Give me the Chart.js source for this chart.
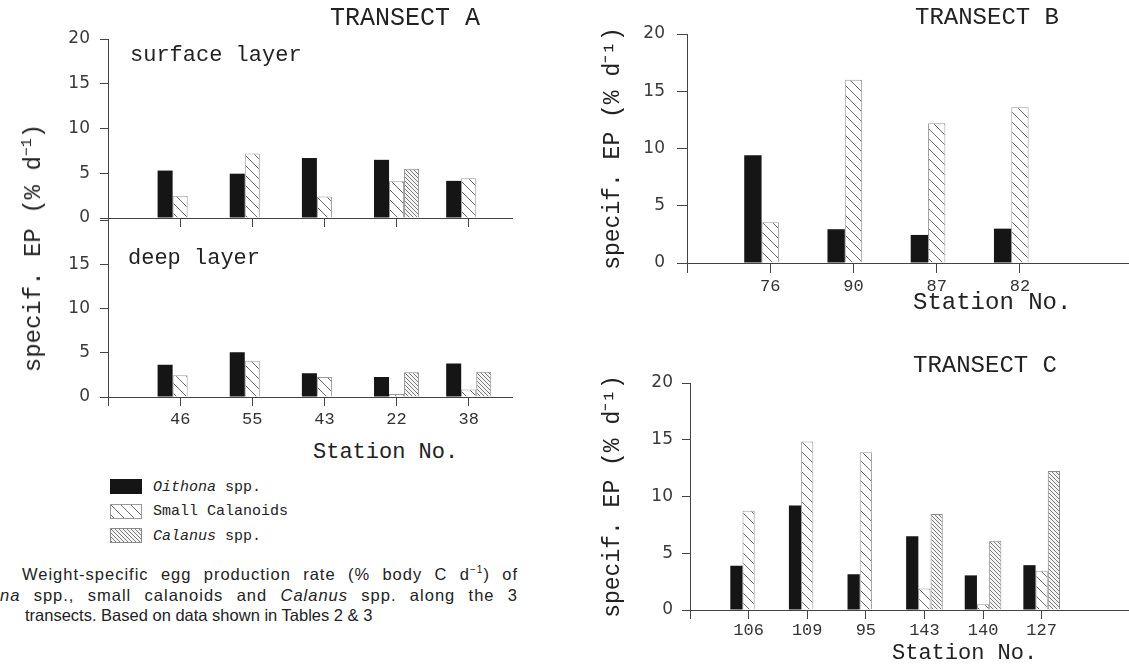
<!DOCTYPE html>
<html>
<head>
<meta charset="utf-8">
<script src="https://cdn.jsdelivr.net/npm/chart.js@4.4.1/dist/chart.umd.min.js"></script>
<style>
  html, body { margin: 0; padding: 0; background: #fff; }
  body { width: 1129px; height: 666px; position: relative; overflow: hidden; }
  canvas.plot { position: absolute; }
  .t { position: absolute; white-space: nowrap; line-height: 1; color: #222;
       font-family: "Liberation Mono", monospace; }
  .cap { position: absolute; white-space: nowrap; line-height: 1; color: #222;
         font-family: "Liberation Sans", Arial, sans-serif; font-size: 16.5px; }
  .just { text-align: justify; text-align-last: justify; white-space: normal; letter-spacing: 1px; }
  .sw { position: absolute; }
</style>
</head>
<body>
<canvas id="aSurf" class="plot" width="560" height="240" style="left:0;top:0"></canvas>
<canvas id="aDeep" class="plot" width="560" height="240" style="left:0;top:200px"></canvas>
<canvas id="bChart" class="plot" width="569" height="320" style="left:560px;top:0"></canvas>
<canvas id="cChart" class="plot" width="569" height="326" style="left:560px;top:340px"></canvas>

<div class="t" style="left:330px;top:6px;font-size:25px">TRANSECT A</div>
<div class="t" style="left:130px;top:45px;font-size:22px">surface layer</div>
<div class="t" style="left:128px;top:248px;font-size:22px">deep layer</div>
<div class="t" style="left:313px;top:442px;font-size:22px">Station No.</div>
<div class="t" style="left:33px;top:248px;font-size:24px;transform:translate(-50%,-50%) rotate(-90deg)">specif. EP (% d<sup style="font-size:15px">&minus;1</sup>)</div>

<div class="t" style="left:915px;top:6px;font-size:24px">TRANSECT B</div>
<div class="t" style="left:913px;top:291px;font-size:24px">Station No.</div>
<div class="t" style="left:913px;top:354px;font-size:24px">TRANSECT C</div>
<div class="t" style="left:892px;top:643px;font-size:22px">Station No.</div>

<canvas id="sw0" class="sw" width="32" height="15" style="left:110px;top:479px"></canvas>
<canvas id="sw1" class="sw" width="32" height="15" style="left:110px;top:504px"></canvas>
<canvas id="sw2" class="sw" width="32" height="15" style="left:110px;top:528px"></canvas>
<div class="t" style="left:153px;top:480px;font-size:15px"><i>Oithona</i> spp.</div>
<div class="t" style="left:153px;top:504px;font-size:15px">Small Calanoids</div>
<div class="t" style="left:153px;top:529px;font-size:15px"><i>Calanus</i> spp.</div>

<div class="cap just" style="left:22px;top:565px;width:496px">Weight-specific egg production rate (% body C d<sup style="font-size:10px">&minus;1</sup>) of</div>
<div class="cap just" style="left:0;top:587px;width:518px"><i>na</i> spp., small calanoids and <i>Calanus</i> spp. along the 3</div>
<div class="cap" style="left:25px;top:607px">transects. Based on data shown in Tables 2 &amp; 3</div>

<script>
// Transect A (surface and deep layer)
const stationsA = ['46', '55', '43', '22', '38'];
const oithonaSurfA = [5.3, 4.95, 6.7, 6.5, 4.15];
const smallCalSurfA = [2.5, 7.2, 2.4, 4.1, 4.45];
const calanusSurfA = [0, 0, 0, 5.5, 0];
const oithonaDeepA = [3.65, 5.05, 2.7, 2.25, 3.8];
const smallCalDeepA = [2.45, 4.1, 2.25, 0.35, 0.85];
const calanusDeepA = [0, 0, 0, 2.8, 2.85];

// Transect B
const stationsB = ['76', '90', '87', '82'];
const oithonaB = [9.4, 2.95, 2.45, 3.0];
const smallCalB = [3.55, 16.0, 12.2, 13.6];
const calanusB = [0, 0, 0, 0];

// Transect C
const stationsC = ['106', '109', '95', '143', '140', '127'];
const oithonaC = [3.9, 9.2, 3.15, 6.5, 3.05, 3.95];
const smallCalC = [8.75, 14.85, 13.9, 1.9, 0.5, 3.45];
const calanusC = [0, 0, 0, 8.45, 6.1, 12.25];

const yTicks = [0, 5, 10, 15, 20];
const seriesNames = ['Oithona spp.', 'Small Calanoids', 'Calanus spp.'];

const axisColor = '#444';
const monoFont = 'Liberation Mono';
const sansFont = 'DejaVu Sans';

// hatch fills, lines running top-left to bottom-right
function hatch(gap, line, bg) {
    const tile = document.createElement('canvas');
    tile.width = gap;
    tile.height = gap;
    const g = tile.getContext('2d');
    g.fillStyle = bg;
    g.fillRect(0, 0, gap, gap);
    g.strokeStyle = line;
    g.lineWidth = 1;
    g.beginPath();
    g.moveTo(0, 0); g.lineTo(gap, gap);
    g.moveTo(-2, gap - 2); g.lineTo(2, gap + 2);
    g.moveTo(gap - 2, -2); g.lineTo(gap + 2, 2);
    g.stroke();
    return g.createPattern(tile, 'repeat');
}

const fills = ['#151515', hatch(10, '#6a6a6a', '#ffffff'), hatch(4, '#7a7a7a', '#f4f4f4')];
const borders = ['#151515', '#9a9a9a', '#8a8a8a'];

function buildDatasets(stations, lists) {
    return lists.map((vals, k) => ({
        label: seriesNames[k],
        data: stations.map((s, i) => ({ x: i + 1, y: vals[i] })),
        backgroundColor: fills[k],
        borderColor: borders[k],
        borderWidth: k === 0 ? 0 : 1,
        categoryPercentage: 0.625,
        barPercentage: 1
    }));
}

function makeChart(id, stations, lists, cfg) {
    const ctx = document.getElementById(id).getContext('2d');
    return new Chart(ctx, {
        type: 'bar',
        data: { datasets: buildDatasets(stations, lists) },
        options: {
            responsive: false,
            animation: false,
            events: [],
            layout: { padding: cfg.padding },
            plugins: { legend: { display: false }, tooltip: { enabled: false }, title: { display: false } },
            scales: {
                x: {
                    type: 'linear',
                    offset: false,
                    min: 0,
                    max: cfg.xMax,
                    afterBuildTicks: (scale) => {
                        scale.ticks = [0].concat(stations.map((s, i) => i + 1)).map(v => ({ value: v }));
                    },
                    afterFit: (scale) => { scale.height = cfg.xHeight; },
                    ticks: {
                        display: cfg.xLabels,
                        autoSkip: false,
                        maxRotation: 0,
                        padding: cfg.xPad,
                        color: '#333',
                        font: { family: monoFont, size: 17 },
                        callback: (v) => (v === 0 ? '' : stations[v - 1])
                    },
                    grid: { offset: false, drawOnChartArea: false, tickLength: cfg.xTick, color: axisColor },
                    border: { color: axisColor }
                },
                y: {
                    min: 0,
                    max: 20,
                    afterBuildTicks: (scale) => {
                        scale.ticks = yTicks.map(v => ({ value: v }));
                    },
                    afterFit: (scale) => { scale.width = cfg.yWidth; },
                    ticks: {
                        padding: cfg.yPad,
                        color: '#3a3a3a',
                        font: { family: sansFont, size: 17 },
                        callback: (v) => (cfg.hideTop && v === 20 ? '' : v)
                    },
                    grid: { drawOnChartArea: false, tickLength: cfg.yTick, color: axisColor },
                    border: { color: axisColor },
                    title: {
                        display: !!cfg.yTitle,
                        text: cfg.yTitle || '',
                        color: '#222',
                        font: { family: monoFont, size: 23 },
                        padding: { top: 39, bottom: 0 }
                    }
                }
            }
        }
    });
}

makeChart('aSurf', stationsA, [oithonaSurfA, smallCalSurfA, calanusSurfA], {
    padding: { top: 39, right: 48, left: 0, bottom: 0 },
    xMax: 5.6, xHeight: 22, xLabels: false, xPad: 4, xTick: 9,
    yWidth: 108, yPad: 10, yTick: 8, hideTop: false
});

makeChart('aDeep', stationsA, [oithonaDeepA, smallCalDeepA, calanusDeepA], {
    padding: { top: 18, right: 48, left: 0, bottom: 0 },
    xMax: 5.6, xHeight: 43, xLabels: true, xPad: 3, xTick: 9,
    yWidth: 108, yPad: 10, yTick: 8, hideTop: true
});

makeChart('bChart', stationsB, [oithonaB, smallCalB, calanusB], {
    padding: { top: 34, right: 0, left: 0, bottom: 0 },
    xMax: 5.31, xHeight: 57, xLabels: true, xPad: 3, xTick: 10,
    yWidth: 127, yPad: 12, yTick: 10, hideTop: false,
    yTitle: 'specif. EP (% d\u207B\u00B9)'
});

makeChart('cChart', stationsC, [oithonaC, smallCalC, calanusC], {
    padding: { top: 43, right: 0, left: 0, bottom: 0 },
    xMax: 7.49, xHeight: 56, xLabels: true, xPad: 1, xTick: 9,
    yWidth: 130, yPad: 9, yTick: 8, hideTop: false,
    yTitle: 'specif. EP (% d\u207B\u00B9)'
});

// legend swatches
for (let k = 0; k < 3; k++) {
    const g = document.getElementById('sw' + k).getContext('2d');
    g.fillStyle = fills[k];
    g.fillRect(0, 0, 32, 15);
    g.strokeStyle = borders[k];
    g.strokeRect(0.5, 0.5, 31, 14);
}
</script>
</body>
</html>
